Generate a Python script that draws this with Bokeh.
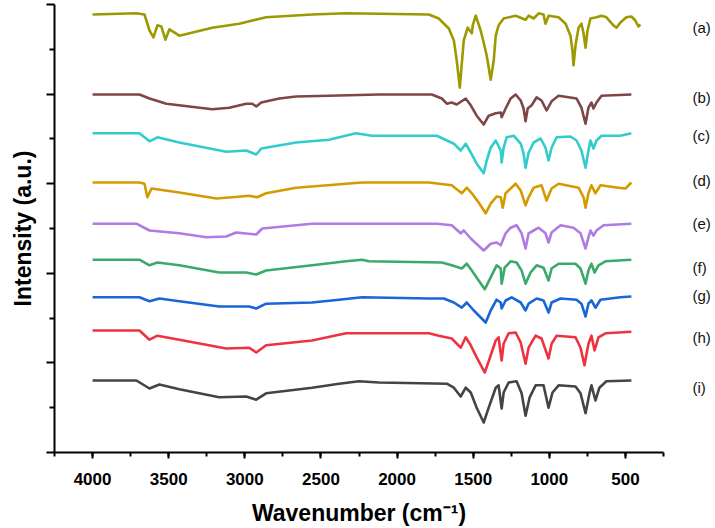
from bokeh.plotting import figure
from bokeh.models import Range1d, SingleIntervalTicker, FixedTicker, LinearAxis, CustomJSTickFormatter
from bokeh.embed import file_html
from bokeh.resources import INLINE

# Wavenumbers (cm-1) and intensities (a.u., stacked)
wn_a = [4000, 3712, 3659, 3626, 3600, 3574, 3548, 3522, 3495, 3430, 3214, 3037, 2860, 2558, 2335, 1791, 1726, 1660, 1627, 1608, 1588, 1562, 1536, 1509, 1503, 1483, 1451, 1431, 1411, 1385, 1365, 1352, 1333, 1300, 1221, 1156, 1136, 1103, 1070, 1038, 1025, 1005, 939, 893, 861, 848, 841, 828, 808, 789, 775, 762, 749, 730, 690, 657, 625, 579, 559, 533, 494, 461, 435, 415, 402]
int_a = [109.5, 109.8, 109.5, 105.5, 103.8, 106.8, 106.5, 103.2, 105.8, 104.2, 106.2, 107.2, 108.8, 109.5, 109.8, 109.5, 108.5, 106.0, 103.0, 98.0, 91.2, 103.0, 106.2, 104.8, 106.8, 109.2, 105.5, 102.5, 99.2, 93.2, 98.0, 104.2, 106.8, 108.5, 109.2, 108.2, 109.2, 108.5, 109.8, 109.5, 107.2, 109.2, 108.8, 107.2, 104.2, 100.5, 96.8, 101.8, 106.2, 107.2, 104.8, 101.2, 105.5, 108.5, 108.8, 109.2, 108.8, 106.8, 106.2, 107.5, 108.8, 109.0, 108.0, 106.5, 107.0]

wn_b = [4000, 3692, 3626, 3515, 3364, 3214, 3102, 2991, 2951, 2925, 2892, 2774, 2663, 2447, 2119, 1772, 1706, 1673, 1641, 1608, 1549, 1516, 1477, 1431, 1398, 1352, 1319, 1313, 1287, 1254, 1221, 1188, 1169, 1156, 1142, 1116, 1083, 1051, 1018, 985, 939, 874, 821, 789, 762, 743, 723, 710, 690, 657, 461]
int_b = [89.5, 89.5, 88.5, 87.2, 86.5, 85.8, 86.2, 87.2, 87.2, 86.5, 87.5, 88.5, 89.0, 89.2, 89.5, 89.5, 88.5, 87.2, 87.5, 87.0, 88.5, 86.8, 84.2, 82.0, 84.2, 84.8, 85.0, 83.8, 86.0, 88.5, 89.5, 88.0, 86.0, 82.8, 86.0, 86.8, 88.8, 88.0, 85.5, 87.8, 89.2, 88.8, 88.5, 86.2, 82.2, 86.2, 87.5, 86.0, 87.5, 89.2, 89.5]

wn_c = [4000, 3692, 3626, 3574, 3430, 3122, 2991, 2925, 2892, 2663, 2447, 2270, 2165, 1739, 1627, 1582, 1549, 1516, 1477, 1431, 1411, 1385, 1352, 1319, 1313, 1300, 1280, 1234, 1188, 1169, 1156, 1136, 1103, 1057, 1025, 1005, 985, 952, 861, 821, 789, 762, 743, 730, 710, 690, 657, 533, 461]
int_c = [79.8, 79.8, 77.8, 78.8, 77.5, 75.2, 75.5, 74.5, 76.0, 77.5, 78.2, 79.8, 79.2, 79.2, 77.2, 75.5, 77.2, 75.0, 72.2, 69.8, 73.0, 76.2, 78.0, 75.5, 72.5, 76.2, 78.8, 79.2, 77.2, 74.8, 71.2, 75.0, 77.5, 78.5, 76.2, 73.0, 76.2, 78.8, 79.0, 78.0, 75.5, 71.2, 75.5, 78.0, 76.0, 78.0, 79.2, 79.2, 79.8]

wn_d = [4000, 3692, 3659, 3640, 3613, 3430, 3187, 3082, 2971, 2919, 2860, 2663, 2230, 1791, 1641, 1575, 1542, 1509, 1464, 1418, 1385, 1346, 1319, 1306, 1287, 1221, 1188, 1156, 1136, 1103, 1051, 1018, 985, 939, 808, 775, 762, 743, 723, 697, 664, 546, 500, 461]
int_d = [67.5, 67.5, 67.2, 63.8, 66.0, 65.0, 63.5, 63.8, 64.2, 63.8, 64.8, 66.2, 67.5, 67.5, 66.8, 64.8, 66.2, 64.8, 62.5, 59.8, 62.2, 64.0, 63.8, 61.2, 64.8, 67.2, 65.5, 61.8, 63.8, 66.2, 66.8, 63.0, 66.0, 67.2, 66.2, 63.8, 61.2, 64.8, 66.8, 64.8, 66.8, 66.2, 66.0, 67.5]

wn_e = [4000, 3712, 3626, 3430, 3253, 3122, 3056, 2925, 2886, 2558, 1739, 1641, 1582, 1562, 1516, 1431, 1385, 1346, 1319, 1287, 1254, 1215, 1182, 1156, 1136, 1103, 1070, 1025, 1005, 985, 926, 841, 795, 762, 743, 730, 710, 690, 644, 461]
int_e = [57.2, 57.2, 55.5, 54.8, 53.8, 54.0, 55.0, 54.5, 56.0, 57.2, 57.2, 56.8, 54.8, 55.5, 53.5, 50.5, 52.2, 52.5, 51.8, 54.8, 56.2, 56.8, 54.8, 51.0, 54.8, 55.5, 56.2, 54.8, 52.5, 55.0, 56.8, 56.2, 54.8, 51.0, 53.8, 55.5, 54.2, 55.5, 56.8, 57.2]

wn_f = [4000, 3692, 3626, 3574, 3430, 3168, 2991, 2925, 2860, 2558, 2335, 2230, 2185, 1706, 1641, 1575, 1542, 1509, 1464, 1424, 1385, 1346, 1319, 1313, 1293, 1254, 1215, 1182, 1156, 1123, 1083, 1038, 1005, 985, 939, 828, 795, 762, 743, 723, 703, 677, 631, 461]
int_f = [48.2, 48.2, 46.8, 47.5, 46.8, 45.0, 45.0, 44.5, 45.5, 46.8, 47.8, 48.2, 47.8, 47.5, 46.8, 46.0, 47.2, 45.5, 43.0, 40.8, 43.8, 46.8, 46.0, 42.2, 46.2, 47.8, 47.5, 45.5, 42.2, 45.0, 46.8, 46.2, 43.0, 46.0, 47.2, 47.2, 46.0, 42.2, 45.5, 47.2, 45.0, 46.8, 47.8, 48.2]

wn_g = [4000, 3692, 3626, 3561, 3430, 3168, 2971, 2925, 2860, 2558, 2381, 2230, 1791, 1693, 1627, 1575, 1542, 1496, 1418, 1385, 1346, 1319, 1313, 1287, 1247, 1188, 1156, 1136, 1083, 1038, 1005, 985, 926, 821, 789, 762, 743, 723, 697, 664, 533, 461]
int_g = [38.8, 38.8, 37.8, 38.5, 37.8, 36.5, 36.5, 36.0, 37.2, 37.5, 38.2, 38.8, 38.5, 38.5, 37.5, 36.2, 37.5, 35.5, 32.5, 35.5, 38.2, 37.5, 36.0, 38.0, 38.8, 37.5, 35.5, 37.2, 38.5, 38.0, 35.0, 37.5, 38.5, 38.2, 37.2, 34.0, 37.2, 38.0, 36.2, 38.2, 38.8, 39.0]

wn_h = [4000, 3692, 3626, 3574, 3430, 3122, 2971, 2925, 2860, 2558, 2335, 1791, 1726, 1641, 1582, 1549, 1516, 1477, 1424, 1392, 1352, 1333, 1313, 1300, 1267, 1221, 1188, 1156, 1136, 1090, 1051, 1005, 985, 952, 828, 795, 769, 743, 723, 703, 677, 631, 461]
int_h = [30.5, 30.5, 28.2, 29.2, 28.2, 26.0, 26.2, 25.0, 26.8, 28.0, 29.8, 29.8, 29.2, 28.5, 26.2, 28.8, 26.8, 23.8, 20.0, 23.5, 28.0, 28.8, 23.0, 27.2, 29.8, 30.0, 27.5, 22.2, 26.2, 29.2, 28.5, 23.5, 27.2, 29.2, 28.8, 26.2, 21.8, 27.2, 29.2, 25.5, 28.8, 29.8, 30.2]

wn_i = [4000, 3712, 3626, 3561, 3430, 3168, 2991, 2925, 2860, 2558, 2381, 2250, 2119, 1673, 1627, 1582, 1549, 1516, 1477, 1431, 1398, 1352, 1333, 1313, 1300, 1267, 1215, 1182, 1156, 1129, 1090, 1038, 1005, 979, 939, 828, 795, 762, 736, 723, 697, 671, 625, 461]
int_i = [18.0, 18.0, 16.0, 17.0, 15.8, 13.8, 14.0, 13.2, 14.8, 16.2, 17.2, 17.8, 17.5, 17.2, 16.2, 14.0, 16.2, 15.0, 11.2, 7.5, 11.2, 16.2, 16.8, 11.0, 15.0, 17.5, 17.8, 14.8, 9.2, 13.8, 16.8, 16.8, 11.2, 15.0, 16.8, 16.5, 14.8, 9.8, 14.8, 16.8, 13.0, 16.2, 17.8, 18.0]

series_labels = ["(a)", "(b)", "(c)", "(d)", "(e)", "(f)", "(g)", "(h)", "(i)"]
label_levels = [106.2, 88.8, 79.2, 68.0, 57.2, 46.2, 39.2, 28.8, 16.2]
colors = ["#9c9a00", "#7e4646", "#33cccc", "#d49b00", "#b07be2", "#3aaa6a", "#1866d8", "#ee3340", "#444444"]

x_ticks_major = 500
y_major_ticks = [0, 22.4, 44.8, 67.2, 89.6, 112]
y_minor_ticks = [11.2, 33.6, 56.0, 78.4, 100.8]

p = figure(width=715, height=528, output_backend="svg", toolbar_location=None,
           x_range=Range1d(4250, 250), y_range=Range1d(0, 112),
           min_border_left=54, min_border_right=52, min_border_top=4, min_border_bottom=76)
p.outline_line_color = None
p.xgrid.visible = False
p.ygrid.visible = False
p.background_fill_color = "white"
p.border_fill_color = "white"

series = [(wn_a, int_a), (wn_b, int_b), (wn_c, int_c), (wn_d, int_d), (wn_e, int_e),
          (wn_f, int_f), (wn_g, int_g), (wn_h, int_h), (wn_i, int_i)]
for (wn, it), c in zip(series, colors):
    p.line(wn, it, line_color=c, line_width=2.6, line_join="round")

# series tags on the right, as an unlined axis whose ticks sit at the curves' levels
tag_axis = LinearAxis(ticker=FixedTicker(ticks=label_levels, minor_ticks=[]),
                      major_label_overrides={lv: t for lv, t in zip(label_levels, series_labels)},
                      axis_line_color=None, major_tick_line_color=None, minor_tick_line_color=None,
                      major_label_standoff=23, major_label_text_font="Liberation Sans",
                      major_label_text_font_size="15px", major_label_text_color="#111111")
p.add_layout(tag_axis, "right")

p.xaxis.ticker = SingleIntervalTicker(interval=x_ticks_major, num_minor_ticks=2)
p.xaxis.axis_label = "Wavenumber (cm\u207b\u00b9)"
left = p.yaxis[0]
left.axis_label = "Intensity (a.u.)"
left.ticker = FixedTicker(ticks=y_major_ticks, minor_ticks=y_minor_ticks)
left.formatter = CustomJSTickFormatter(code="return ''")
left.major_label_standoff = 0

for ax in (p.xaxis[0], left):
    ax.axis_line_width = 2
    ax.axis_line_color = "black"
    ax.major_tick_line_width = 2
    ax.minor_tick_line_width = 2
    ax.major_tick_in = 0
    ax.minor_tick_in = 0
    ax.axis_label_text_font = "Liberation Sans"
    ax.axis_label_text_font_style = "bold"
    ax.axis_label_text_font_size = "23px"
    ax.axis_label_text_color = "black"
    ax.major_label_text_font = "Liberation Sans"
    ax.major_label_text_font_style = "bold"
    ax.major_label_text_font_size = "17px"
    ax.major_label_text_color = "black"

p.xaxis.major_tick_out = 6
p.xaxis.minor_tick_out = 4
left.major_tick_out = 8
left.minor_tick_out = 5
p.xaxis.major_label_standoff = 14
p.xaxis.axis_label_standoff = 12
left.axis_label_standoff = 11

open("out.html", "w").write(file_html(p, INLINE))
